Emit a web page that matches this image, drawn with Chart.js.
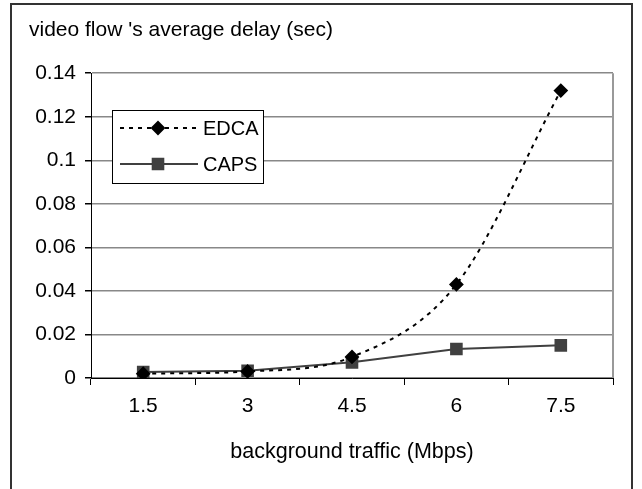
<!DOCTYPE html>
<html>
<head>
<meta charset="utf-8">
<script src="https://cdn.jsdelivr.net/npm/chart.js@4/dist/chart.umd.min.js"></script>
<style>
  html, body { margin: 0; padding: 0; background: #fff; }
  #wrap { width: 642px; height: 489px; }
</style>
</head>
<body>
<div id="wrap"><canvas id="myChart" width="642" height="489"></canvas></div>
<script>
const categories = ["1.5", "3", "4.5", "6", "7.5"];
const edcaValues = [0.002, 0.003, 0.0097, 0.043, 0.132];
const capsValues = [0.0027, 0.0033, 0.0072, 0.0133, 0.015];

const FONT = "'Liberation Sans', Arial, sans-serif";

// outer frame, right edge of plot and the boxed legend
const decor = {
  id: "decor",
  afterDraw(chart) {
    const ctx = chart.ctx;
    const a = chart.chartArea;
    ctx.save();
    ctx.strokeStyle = "#333";
    ctx.lineWidth = 2;
    ctx.strokeRect(11, 4, 621, 500);

    ctx.strokeStyle = "#999";
    ctx.lineWidth = 2;
    ctx.beginPath();
    ctx.moveTo(a.right, a.top);
    ctx.lineTo(a.right, a.bottom);
    ctx.stroke();

    // legend
    const bx = 112, by = 110, bw = 151, bh = 73;
    ctx.fillStyle = "#fff";
    ctx.fillRect(bx, by, bw, bh);
    ctx.strokeStyle = "#000";
    ctx.lineWidth = 1;
    ctx.strokeRect(bx + 0.5, by + 0.5, bw, bh);
    const rows = [by + 18, by + 54];
    chart.data.datasets.forEach((ds, i) => {
      const y = rows[i];
      ctx.strokeStyle = ds.borderColor;
      ctx.lineWidth = ds.borderWidth;
      ctx.setLineDash(ds.borderDash || []);
      ctx.beginPath();
      ctx.moveTo(bx + 8, y);
      ctx.lineTo(bx + 86, y);
      ctx.stroke();
      ctx.setLineDash([]);
      Chart.helpers.drawPoint(ctx, {
        pointStyle: ds.pointStyle,
        radius: ds.pointRadius,
        borderWidth: 1,
        rotation: 0
      }, bx + 46, y);
      ctx.fillStyle = ds.pointBackgroundColor;
      ctx.strokeStyle = ds.pointBorderColor;
      ctx.fill();
      ctx.fillStyle = "#000";
      ctx.font = "20px " + FONT;
      ctx.textBaseline = "middle";
      ctx.fillText(ds.label, bx + 91, y + 1);
    });
    ctx.restore();
  }
};

new Chart(document.getElementById("myChart"), {
  type: "line",
  data: {
    labels: categories,
    datasets: [
      {
        label: "EDCA",
        data: edcaValues,
        borderColor: "#000",
        borderWidth: 2,
        borderDash: [4, 5],
        tension: 0.35,
        cubicInterpolationMode: "monotone",
        pointStyle: "rectRot",
        pointRadius: 6,
        pointBackgroundColor: "#000",
        pointBorderColor: "#000"
      },
      {
        label: "CAPS",
        data: capsValues,
        borderColor: "#404040",
        borderWidth: 2,
        pointStyle: "rect",
        pointRadius: 7.5,
        pointBackgroundColor: "#404040",
        pointBorderColor: "#404040"
      }
    ]
  },
  options: {
    responsive: false,
    animation: false,
    layout: { padding: { left: 29, right: 29, top: 8, bottom: 24 } },
    plugins: {
      legend: { display: false },
      tooltip: { enabled: false },
      title: {
        display: true,
        text: "video flow 's average delay (sec)",
        align: "start",
        color: "#000",
        font: { family: FONT, size: 21, weight: "normal" },
        padding: { top: 10, bottom: 30 }
      }
    },
    scales: {
      x: {
        offset: true,
        grid: {
          offset: true,
          drawOnChartArea: false,
          drawTicks: true,
          tickLength: 7,
          tickColor: "#000",
          tickWidth: 1
        },
        border: { color: "#000", width: 1 },
        ticks: { color: "#000", font: { family: FONT, size: 21 }, padding: 9 },
        title: {
          display: true,
          text: "background traffic (Mbps)",
          color: "#000",
          font: { family: FONT, size: 21.5 },
          padding: { top: 11, bottom: 0 }
        }
      },
      y: {
        min: 0,
        max: 0.14,
        afterFit(scale) { scale.width = 62; },
        grid: {
          color: "#888",
          lineWidth: 1.5,
          tickColor: "#000",
          tickLength: 6
        },
        border: { color: "#000", width: 1 },
        ticks: {
          stepSize: 0.02,
          color: "#000",
          padding: 9,
          font: { family: FONT, size: 21 },
          callback: (v) => Number(v.toFixed(2)).toString()
        }
      }
    }
  },
  plugins: [decor]
});
</script>
</body>
</html>
